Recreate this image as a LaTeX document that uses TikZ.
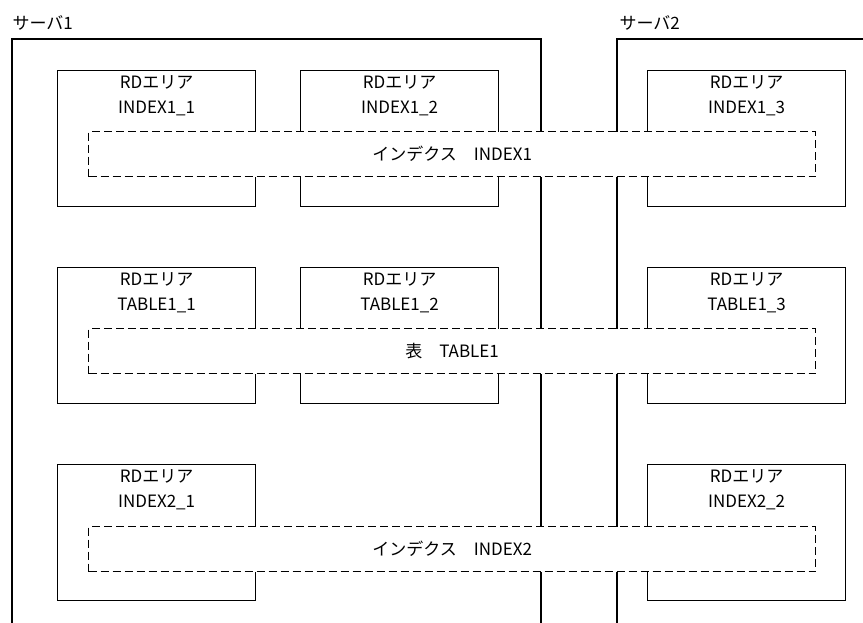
\documentclass[tikz,border=0pt]{standalone}
\usepackage{fontspec}
\setmainfont{Noto Sans CJK JP}

\begin{document}
\begin{tikzpicture}[
      x=1pt, y=-1pt,
      line width=1.2pt,
      font=\fontsize{17}{25}\selectfont,
      rdarea/.style={draw, fill=white, anchor=north west, inner sep=0pt,
        minimum width=198pt, minimum height=136pt},
      rdname/.style={anchor=north, align=center, inner sep=0pt},
      tblbox/.style={draw, fill=white, dash pattern=on 8pt off 4pt,
        anchor=north west, inner sep=0pt,
        minimum width=727pt, minimum height=45pt},
      srvname/.style={anchor=south west, inner sep=0pt}
    ]
    \useasboundingbox (0,0) rectangle (863,623);

    % servers
    \node (s1) [srvname] at (12,31) {サーバ1};
    \node (s2) [srvname] at (619,31) {サーバ2};
    \coordinate (s1a) at (12,623);
    \coordinate (s1b) at (541,39);
    \coordinate (s1c) at (541,623);
    \coordinate (s2a) at (617,623);
    \coordinate (s2b) at (863,39);
    \draw (s1a) |- (s1b) -- (s1c);
    \draw (s2a) |- (s2b);

    % RD areas
    \node (a11) [rdarea] at (57,70) {};
    \node (a12) [rdarea] at (300,70) {};
    \node (a13) [rdarea] at (647,70) {};
    \node (a21) [rdarea] at (57,267) {};
    \node (a22) [rdarea] at (300,267) {};
    \node (a23) [rdarea] at (647,267) {};
    \node (a31) [rdarea] at (57,464) {};
    \node (a33) [rdarea] at (647,464) {};
    \node (t11) [rdname] at ([yshift=-5pt]a11.north) {RDエリア\\INDEX1\_1};
    \node (t12) [rdname] at ([yshift=-5pt]a12.north) {RDエリア\\INDEX1\_2};
    \node (t13) [rdname] at ([yshift=-5pt]a13.north) {RDエリア\\INDEX1\_3};
    \node (t21) [rdname] at ([yshift=-5pt]a21.north) {RDエリア\\TABLE1\_1};
    \node (t22) [rdname] at ([yshift=-5pt]a22.north) {RDエリア\\TABLE1\_2};
    \node (t23) [rdname] at ([yshift=-5pt]a23.north) {RDエリア\\TABLE1\_3};
    \node (t31) [rdname] at ([yshift=-5pt]a31.north) {RDエリア\\INDEX2\_1};
    \node (t33) [rdname] at ([yshift=-5pt]a33.north) {RDエリア\\INDEX2\_2};

    % index and table
    \node (i1) [tblbox] at (88,131) {インデクス　INDEX1};
    \node (tb1) [tblbox] at (88,328) {表　TABLE1};
    \node (i2) [tblbox] at (88,526) {インデクス　INDEX2};
  \end{tikzpicture}
\end{document}
